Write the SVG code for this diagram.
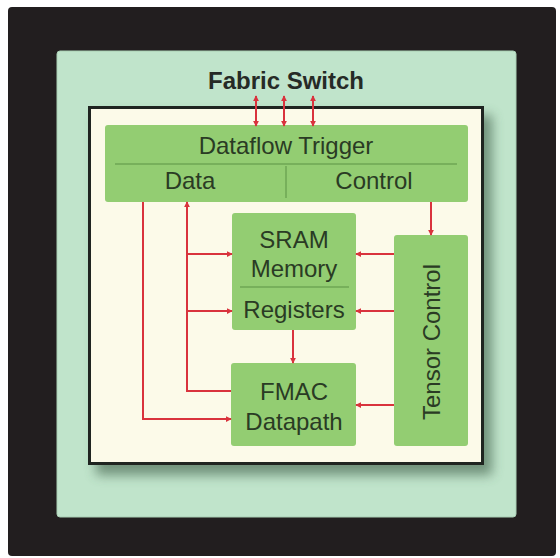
<svg xmlns="http://www.w3.org/2000/svg" width="560" height="558" viewBox="0 0 560 558">
<defs>
<style>
.box{fill:#93cd72;}
.lbl{font-family:"Liberation Sans",Arial,sans-serif;font-size:24px;fill:#2a3b24;text-anchor:middle;}
.title{font-family:"Liberation Sans",Arial,sans-serif;font-size:24px;font-weight:bold;fill:#262a26;text-anchor:middle;}
.div{stroke:#6ea655;stroke-width:1.5;fill:none;}
.con{stroke:#d9333d;stroke-width:2;fill:none;}
</style>
<marker id="ah" viewBox="0 0 8 8" refX="7" refY="4" markerWidth="6" markerHeight="6" markerUnits="userSpaceOnUse" orient="auto-start-reverse">
<path d="M0,0 L8,4 L0,8 Z" fill="#d9333d"/>
</marker>
<filter id="sh" x="-10%" y="-10%" width="130%" height="130%">
<feGaussianBlur stdDeviation="6"/>
</filter>
</defs>
<rect x="8" y="7" width="548" height="549" rx="4" fill="#221e1f"/>
<rect x="57" y="51" width="459" height="466" rx="3" fill="#c0e4cb" stroke="#a9cfb4" stroke-width="1"/>
<rect x="96" y="115" width="396" height="360" fill="#3a5a44" opacity="0.6" filter="url(#sh)"/>
<rect x="89.5" y="107.5" width="393" height="356" fill="#fcfae9" stroke="#1f2420" stroke-width="3"/>
<text class="title" x="286" y="89">Fabric Switch</text>
<g id="dataflow-trigger">
<rect class="box" x="105" y="125" width="363" height="77" rx="3"/>
<line class="div" x1="115" y1="164" x2="457" y2="164"/>
<line class="div" x1="286" y1="166" x2="286" y2="198"/>
<text class="lbl" x="286" y="154">Dataflow Trigger</text>
<text class="lbl" x="190" y="189">Data</text>
<text class="lbl" x="374" y="189">Control</text>
</g>
<g id="sram-registers">
<rect class="box" x="232" y="213" width="124" height="117" rx="3"/>
<line class="div" x1="240" y1="287" x2="349" y2="287"/>
<text class="lbl" x="294" y="248">SRAM</text>
<text class="lbl" x="294" y="277">Memory</text>
<text class="lbl" x="294" y="318">Registers</text>
</g>
<g id="fmac">
<rect class="box" x="231" y="363" width="125" height="83" rx="3"/>
<text class="lbl" x="294" y="400">FMAC</text>
<text class="lbl" x="294" y="430">Datapath</text>
</g>
<g id="tensor-control">
<rect class="box" x="394" y="235" width="74" height="211" rx="3"/>
<text class="lbl" transform="translate(440,342) rotate(-90)">Tensor Control</text>
</g>
<g id="connectors">
<path class="con" d="M256,96 V126" marker-start="url(#ah)" marker-end="url(#ah)"/>
<path class="con" d="M284,96 V126" marker-start="url(#ah)" marker-end="url(#ah)"/>
<path class="con" d="M313,96 V126" marker-start="url(#ah)" marker-end="url(#ah)"/>
<path class="con" d="M143,202 V419 H231" marker-end="url(#ah)"/>
<path class="con" d="M231,391 H187 V202" marker-end="url(#ah)"/>
<path class="con" d="M187,254 H232" marker-end="url(#ah)"/>
<path class="con" d="M187,311 H232" marker-end="url(#ah)"/>
<path class="con" d="M431,202 V235" marker-end="url(#ah)"/>
<path class="con" d="M394,254 H356" marker-end="url(#ah)"/>
<path class="con" d="M394,311 H356" marker-end="url(#ah)"/>
<path class="con" d="M394,405 H356" marker-end="url(#ah)"/>
<path class="con" d="M293,330 V363" marker-end="url(#ah)"/>
</g>
</svg>
